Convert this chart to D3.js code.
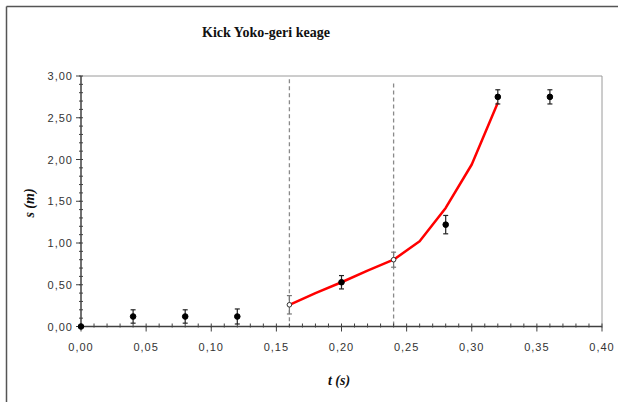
<!DOCTYPE html>
<html><head><meta charset="utf-8">
<script src="https://cdn.jsdelivr.net/npm/d3@7"></script>
<style>
html,body{margin:0;padding:0;background:#fff;}
svg{display:block;}
</style></head>
<body>
<script>
// ---- data ----
const times = [0.00, 0.04, 0.08, 0.12, 0.16, 0.20, 0.24, 0.28, 0.32, 0.36];
const positions = [0.00, 0.12, 0.12, 0.12, 0.26, 0.53, 0.80, 1.22, 2.75, 2.75];
const errors = [0.00, 0.08, 0.08, 0.09, 0.11, 0.08, 0.09, 0.11, 0.085, 0.085];
const hollow = [false, false, false, false, true, false, true, false, false, false];
const fitT = [0.16, 0.18, 0.20, 0.22, 0.24, 0.26, 0.28, 0.30, 0.32];
const fitS = [0.26, 0.40, 0.53, 0.67, 0.80, 1.02, 1.42, 1.94, 2.68];
const markerT = [0.16, 0.24];
const markerTop = [2.96, 2.91];
const xTicks = [0, 0.05, 0.10, 0.15, 0.20, 0.25, 0.30, 0.35, 0.40];
const yTicks = [0, 0.5, 1.0, 1.5, 2.0, 2.5, 3.0];
const title = "Kick Yoko-geri keage";
const xLabel = "t (s)";
const yLabel = "s (m)";

const W = 618, H = 402;
const svg = d3.select("body").append("svg").attr("width", W).attr("height", H);

// outer frame (only top & left visible)
svg.append("line").attr("x1", 6.5).attr("x2", W).attr("y1", 6.5).attr("y2", 6.5).attr("stroke", "#555").attr("stroke-width", 1.5);
svg.append("line").attr("x1", 6.5).attr("x2", 6.5).attr("y1", 6.5).attr("y2", H).attr("stroke", "#555").attr("stroke-width", 1.5);

const x = d3.scaleLinear().domain([0, 0.40]).range([81, 602]);
const y = d3.scaleLinear().domain([0, 3.0]).range([326.5, 76]);
const fmt = d => d3.format(".2f")(d).replace(".", ",");

// plot border top/right
svg.append("path")
  .attr("d", `M${x(0)},${y(3)}H${x(0.4)}V${y(0)}`)
  .attr("fill", "none").attr("stroke", "#9a9a9a").attr("stroke-width", 1);

// dashed markers
svg.selectAll("line.mk").data(markerT).join("line")
  .attr("x1", d => x(d)).attr("x2", d => x(d))
  .attr("y1", (d, i) => y(markerTop[i])).attr("y2", y(0))
  .attr("stroke", "#8a8a8a").attr("stroke-width", 1.3).attr("stroke-dasharray", "4,3");

// axes
const axisCol = "#404040";
const gx = svg.append("g");
gx.append("line").attr("x1", x(0)).attr("x2", x(0.4)).attr("y1", y(0)).attr("y2", y(0)).attr("stroke", axisCol).attr("stroke-width", 1.5);
const xMinor = d3.range(0, 41).map(i => i / 100);
gx.selectAll("line.mn").data(xMinor).join("line")
  .attr("x1", d => x(d)).attr("x2", d => x(d))
  .attr("y1", y(0) - 3).attr("y2", y(0) + 1).attr("stroke", axisCol);
gx.selectAll("line.mj").data(xTicks).join("line")
  .attr("x1", d => x(d)).attr("x2", d => x(d))
  .attr("y1", y(0)).attr("y2", y(0) + 5).attr("stroke", axisCol);
gx.selectAll("text").data(xTicks).join("text")
  .attr("x", d => x(d)).attr("y", 351)
  .attr("text-anchor", "middle")
  .attr("font-family", "Liberation Sans, Arial, sans-serif").attr("font-size", 11).attr("letter-spacing", 1)
  .attr("fill", "#333").text(fmt);

const gy = svg.append("g");
gy.append("line").attr("x1", x(0)).attr("x2", x(0)).attr("y1", y(0)).attr("y2", y(3)).attr("stroke", axisCol).attr("stroke-width", 1.5);
const yMinor = d3.range(0, 31).map(i => i / 10);
gy.selectAll("line.mn").data(yMinor).join("line")
  .attr("x1", x(0) - 2).attr("x2", x(0) + 2)
  .attr("y1", d => y(d)).attr("y2", d => y(d)).attr("stroke", axisCol);
gy.selectAll("line.mj").data(yTicks).join("line")
  .attr("x1", x(0) - 5).attr("x2", x(0))
  .attr("y1", d => y(d)).attr("y2", d => y(d)).attr("stroke", axisCol);
gy.selectAll("text").data(yTicks).join("text")
  .attr("x", 73).attr("y", d => y(d) + 4)
  .attr("text-anchor", "end")
  .attr("font-family", "Liberation Sans, Arial, sans-serif").attr("font-size", 11).attr("letter-spacing", 1)
  .attr("fill", "#333").text(fmt);

// red fit line
svg.append("path")
  .datum(fitT.map((t, i) => [t, fitS[i]]))
  .attr("d", d3.line().x(d => x(d[0])).y(d => y(d[1])))
  .attr("fill", "none").attr("stroke", "#ff0000").attr("stroke-width", 2.5).attr("stroke-linejoin", "round");

// error bars
const pts = times.map((t, i) => ({ t, s: positions[i], e: errors[i], h: hollow[i] }));
const eb = svg.append("g");
pts.filter(d => d.e > 0).forEach(d => {
  const c = d.h ? "#777" : "#222";
  const g = eb.append("g").attr("stroke", c).attr("stroke-width", 1.2);
  g.append("line").attr("x1", x(d.t)).attr("x2", x(d.t)).attr("y1", y(d.s - d.e)).attr("y2", y(d.s + d.e));
  g.append("line").attr("x1", x(d.t) - 2.5).attr("x2", x(d.t) + 2.5).attr("y1", y(d.s - d.e)).attr("y2", y(d.s - d.e));
  g.append("line").attr("x1", x(d.t) - 2.5).attr("x2", x(d.t) + 2.5).attr("y1", y(d.s + d.e)).attr("y2", y(d.s + d.e));
});

// points
svg.selectAll("circle.pt").data(pts).join("circle")
  .attr("cx", d => x(d.t)).attr("cy", d => y(d.s)).attr("r", d => d.h ? 2.3 : 2.8)
  .attr("fill", d => d.h ? "#fff" : "#000")
  .attr("stroke", d => d.h ? "#333" : "#000").attr("stroke-width", 1);

// title & labels
svg.append("text").attr("x", 266).attr("y", 37).attr("text-anchor", "middle")
  .attr("font-family", "Liberation Serif, Times New Roman, serif").attr("font-weight", "bold").attr("font-size", 14)
  .attr("fill", "#111").text(title);
svg.append("text").attr("x", 339).attr("y", 385).attr("text-anchor", "middle")
  .attr("font-family", "Liberation Serif, Times New Roman, serif").attr("font-weight", "bold").attr("font-style", "italic").attr("font-size", 14)
  .attr("fill", "#111").text(xLabel);
svg.append("text").attr("transform", "translate(34,203) rotate(-90)").attr("text-anchor", "middle")
  .attr("font-family", "Liberation Serif, Times New Roman, serif").attr("font-weight", "bold").attr("font-style", "italic").attr("font-size", 14)
  .attr("fill", "#111").text(yLabel);
</script>
</body></html>
